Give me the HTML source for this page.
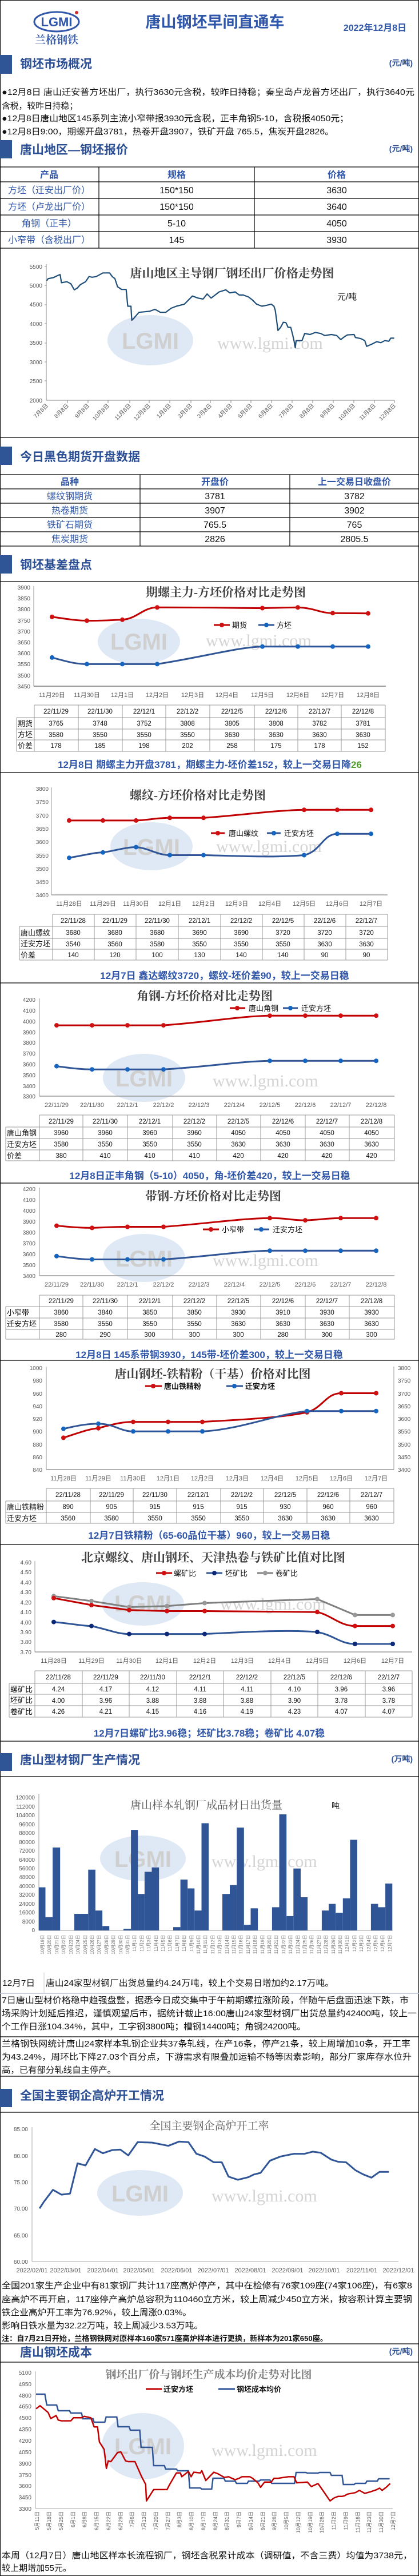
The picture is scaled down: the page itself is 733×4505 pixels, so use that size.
<!DOCTYPE html>
<html><head><meta charset="utf-8">
<style>
html,body{margin:0;padding:0;background:#fff;}
svg{display:block;font-family:"Liberation Sans","Noto Sans CJK SC",sans-serif;}
.hd{font-size:21px;font-weight:bold;fill:#2c4f96;}
.un{font-size:14px;font-weight:bold;fill:#2c4f96;text-anchor:end;}
.p{font-size:15px;fill:#111;}
.th{font-size:16px;font-weight:bold;fill:#2f56a8;text-anchor:middle;}
.tb{font-size:16px;fill:#2f56a8;text-anchor:middle;}
.tk{font-size:16px;fill:#111;text-anchor:middle;}
.ax{font-size:10px;fill:#595959;}
.axr{font-size:10px;fill:#595959;text-anchor:end;}
.axm{font-size:11px;fill:#595959;text-anchor:middle;}
.ct{font-family:"Liberation Serif","Noto Serif CJK SC",serif;font-size:21px;font-weight:bold;fill:#404040;text-anchor:middle;}
.lg{font-size:13px;fill:#111;}
.dt{font-size:11.5px;fill:#111;text-anchor:middle;}
.dl{font-size:13px;fill:#111;}
.cap{font-size:17px;font-weight:bold;fill:#2f56a8;text-anchor:middle;}
.wm{font-family:"Liberation Serif",serif;font-size:30px;fill:#d4d4d4;}
.wl{font-size:40px;font-weight:bold;fill:#cfcfcf;}
.g{stroke:#999;stroke-width:1;fill:none;}
.bl{stroke:#000;stroke-width:1.2;}
</style></head><body>
<svg width="733" height="4505" viewBox="0 0 733 4505" xmlns="http://www.w3.org/2000/svg">
<rect x="0.5" y="0.5" width="732" height="4504" fill="#fff" stroke="#000" stroke-width="1"/>

<!-- Header -->
<ellipse cx="99" cy="38" rx="39" ry="17" fill="none" stroke="#2f56a8" stroke-width="3"/>
<text x="99" y="46" font-size="22" font-weight="bold" fill="#2f56a8" text-anchor="middle">LGMI</text>
<circle cx="134" cy="22" r="3" fill="#d03030"/>
<text x="99" y="76" font-size="19" font-weight="bold" fill="#2f56a8" text-anchor="middle" font-family="'Noto Serif CJK SC',serif">兰格钢铁</text>
<text x="376" y="48" font-size="27" font-weight="bold" fill="#2f56a8" text-anchor="middle">唐山钢坯早间直通车</text>
<text x="656" y="54" font-size="16" font-weight="bold" fill="#2f56a8" text-anchor="middle">2022年12月8日</text>

<!-- Section 1 -->
<rect x="0" y="96" width="21" height="33" fill="#2f5597"/>
<text class="hd" x="35" y="119">钢坯市场概况</text>
<text class="un" x="722" y="115">(元/吨)</text>
<text class="p" x="3" y="166" textLength="722" lengthAdjust="spacingAndGlyphs">●12月8日 唐山迁安普方坯出厂，执行3630元含税，较昨日持稳；秦皇岛卢龙普方坯出厂，执行3640元</text>
<text class="p" x="3" y="190" textLength="133" lengthAdjust="spacingAndGlyphs">含税，较昨日持稳；</text>
<text class="p" x="3" y="212" textLength="607" lengthAdjust="spacingAndGlyphs">●12月8日唐山地区145系列主流小窄带报3930元含税，正丰角钢5-10，含税报4050元；</text>
<text class="p" x="3" y="235" textLength="581" lengthAdjust="spacingAndGlyphs">●12月8日9:00，期螺开盘3781，热卷开盘3907，铁矿开盘 765.5，焦炭开盘2826。</text>

<!-- Section 2 -->
<rect x="0" y="245" width="21" height="32" fill="#2f5597"/>
<text class="hd" x="35" y="269">唐山地区—钢坯报价</text>
<text class="un" x="722" y="265">(元/吨)</text>
<line class="bl" x1="0" y1="292" x2="733" y2="292"/>
<line class="bl" x1="0" y1="318" x2="733" y2="318"/>
<line class="bl" x1="0" y1="347" x2="733" y2="347"/>
<line class="bl" x1="0" y1="376" x2="733" y2="376"/>
<line class="bl" x1="0" y1="405" x2="733" y2="405"/>
<line class="bl" x1="0" y1="434" x2="733" y2="434"/>
<line class="bl" x1="173" y1="292" x2="173" y2="434"/>
<line class="bl" x1="445" y1="292" x2="445" y2="434"/>
<text class="th" x="86" y="311">产品</text><text class="th" x="309" y="311">规格</text><text class="th" x="589" y="311">价格</text>
<text class="tb" x="86" y="338">方坯（迁安出厂价）</text><text class="tk" x="309" y="338">150*150</text><text class="tk" x="589" y="338">3630</text>
<text class="tb" x="86" y="367">方坯（卢龙出厂价）</text><text class="tk" x="309" y="367">150*150</text><text class="tk" x="589" y="367">3640</text>
<text class="tb" x="86" y="396">角钢（正丰）</text><text class="tk" x="309" y="396">5-10</text><text class="tk" x="589" y="396">4050</text>
<text class="tb" x="86" y="425">小窄带（含税出厂）</text><text class="tk" x="309" y="425">145</text><text class="tk" x="589" y="425">3930</text>

<!-- Chart 1 -->
<ellipse cx="263" cy="595" rx="75" ry="44" fill="#dfe9f5"/>
<text class="wl" x="263" y="610" text-anchor="middle">LGMI</text>
<text class="wm" x="380" y="610">www.lgmi.com</text>
<text class="ct" x="406" y="485" font-weight="normal">唐山地区主导钢厂钢坯出厂价格走势图</text>
<text x="590" y="524" font-size="15" fill="#111">元/吨</text>
<line x1="81" y1="462" x2="81" y2="700" stroke="#888"/>
<line x1="81" y1="700" x2="690" y2="700" stroke="#888"/>
<g class="axr">
<text x="74" y="470">5500</text><text x="74" y="503">5000</text><text x="74" y="536">4500</text><text x="74" y="570">4000</text><text x="74" y="603">3500</text><text x="74" y="637">3000</text><text x="74" y="670">2500</text><text x="74" y="704">2000</text>
</g>
<g stroke="#888"><line x1="78" y1="466" x2="81" y2="466"/><line x1="78" y1="499" x2="81" y2="499"/><line x1="78" y1="533" x2="81" y2="533"/><line x1="78" y1="566" x2="81" y2="566"/><line x1="78" y1="600" x2="81" y2="600"/><line x1="78" y1="633" x2="81" y2="633"/><line x1="78" y1="666" x2="81" y2="666"/>
<line x1="118" y1="700" x2="118" y2="705"/><line x1="154" y1="700" x2="154" y2="705"/><line x1="189" y1="700" x2="189" y2="705"/><line x1="227" y1="700" x2="227" y2="705"/><line x1="261" y1="700" x2="261" y2="705"/><line x1="297" y1="700" x2="297" y2="705"/><line x1="334" y1="700" x2="334" y2="705"/><line x1="368" y1="700" x2="368" y2="705"/><line x1="404" y1="700" x2="404" y2="705"/><line x1="439" y1="700" x2="439" y2="705"/><line x1="475" y1="700" x2="475" y2="705"/><line x1="511" y1="700" x2="511" y2="705"/><line x1="547" y1="700" x2="547" y2="705"/><line x1="583" y1="700" x2="583" y2="705"/><line x1="619" y1="700" x2="619" y2="705"/><line x1="655" y1="700" x2="655" y2="705"/><line x1="690" y1="700" x2="690" y2="705"/></g>
<g class="axr">
<text transform="translate(85,710) rotate(-45)">7月8日</text>
<text transform="translate(121,710) rotate(-45)">8月8日</text>
<text transform="translate(157,710) rotate(-45)">9月8日</text>
<text transform="translate(192,710) rotate(-45)">10月8日</text>
<text transform="translate(230,710) rotate(-45)">11月8日</text>
<text transform="translate(264,710) rotate(-45)">12月8日</text>
<text transform="translate(300,710) rotate(-45)">1月8日</text>
<text transform="translate(337,710) rotate(-45)">2月8日</text>
<text transform="translate(371,710) rotate(-45)">3月8日</text>
<text transform="translate(407,710) rotate(-45)">4月8日</text>
<text transform="translate(442,710) rotate(-45)">5月8日</text>
<text transform="translate(478,710) rotate(-45)">6月8日</text>
<text transform="translate(514,710) rotate(-45)">7月8日</text>
<text transform="translate(550,710) rotate(-45)">8月8日</text>
<text transform="translate(586,710) rotate(-45)">9月8日</text>
<text transform="translate(622,710) rotate(-45)">10月8日</text>
<text transform="translate(658,710) rotate(-45)">11月8日</text>
<text transform="translate(693,710) rotate(-45)">12月8日</text>
</g>
<polyline fill="none" stroke="#1f4e79" stroke-width="2.2" stroke-linejoin="round" points="81.8,490.9 84.2,487.3 93.5,485.5 100.5,482 105.2,480.2 107.5,494.4 116.9,492.7 123.9,496.2 130,506.9 135.6,503.4 140.3,498 149.6,492.7 155.7,483.7 161.3,484.8 168.3,483.7 180,477.3 191.7,477.3 196.4,483.7 201,487.3 205.7,501.6 212.7,506.2 220.7,506.2 223.5,535.5 229.1,535.5 230.5,560 233.8,557 243.1,546.2 261.8,544.4 271.2,540.9 280.5,546.2 289.9,546.2 299.2,539.1 308.6,535.5 322.6,531.9 336.6,517.7 346,521.2 355.3,523 362.3,514.1 369.3,521.2 374,517.7 383.4,510.5 395,506.9 402,512.3 411.4,510.5 418.4,515.9 425.4,515.9 434.8,519.4 441.8,524.8 448.8,531.9 458.2,535.5 467.5,533.7 474.5,531.9 479.2,535.5 481.5,542.6 483.9,560 486.2,577.9 490.9,572.5 495.6,563.6 500.2,564.3 504,572.5 508.6,572.5 511.9,585 514.3,595.7 516.6,608.2 518,595.7 528.3,595.7 533,583.2 542.3,585 551.7,581.4 561,583.2 568,586.8 579.7,585 589,586.8 596,593.9 603,588.6 607.8,585.7 619.4,585 621.8,590.3 631.1,592.1 638.1,595.7 641.4,605.7 649.8,602.1 659.2,597.5 666.2,599.3 673.2,595.7 680.2,596.8 683.5,591.4 689.6,591.4"/>
<line class="bl" x1="0" y1="765" x2="733" y2="765"/>

<!-- Section 3 -->
<rect x="0" y="781" width="21" height="32" fill="#2f5597"/>
<text class="hd" x="35" y="806">今日黑色期货开盘数据</text>
<line class="bl" x1="0" y1="830" x2="733" y2="830"/>
<line class="bl" x1="0" y1="855" x2="733" y2="855"/>
<line class="bl" x1="0" y1="880" x2="733" y2="880"/>
<line class="bl" x1="0" y1="905" x2="733" y2="905"/>
<line class="bl" x1="0" y1="930" x2="733" y2="930"/>
<line class="bl" x1="0" y1="955" x2="733" y2="955"/>
<line class="bl" x1="245" y1="830" x2="245" y2="955"/>
<line class="bl" x1="507" y1="830" x2="507" y2="955"/>
<text class="th" x="122" y="848">品种</text><text class="th" x="376" y="848">开盘价</text><text class="th" x="620" y="848">上一交易日收盘价</text>
<text class="tb" x="122" y="873">螺纹钢期货</text><text class="tk" x="376" y="873">3781</text><text class="tk" x="620" y="873">3782</text>
<text class="tb" x="122" y="898">热卷期货</text><text class="tk" x="376" y="898">3907</text><text class="tk" x="620" y="898">3902</text>
<text class="tb" x="122" y="923">铁矿石期货</text><text class="tk" x="376" y="923">765.5</text><text class="tk" x="620" y="923">765</text>
<text class="tb" x="122" y="948">焦炭期货</text><text class="tk" x="376" y="948">2826</text><text class="tk" x="620" y="948">2805.5</text>

<!-- Section 4 -->
<rect x="0" y="971" width="21" height="32" fill="#2f5597"/>
<text class="hd" x="35" y="995">钢坯基差盘点</text>
<line class="bl" x1="0" y1="1017" x2="733" y2="1017"/>

<!-- Chart 期螺 -->
<ellipse cx="243" cy="1122" rx="72" ry="40" fill="#dfe9f5"/>
<text class="wl" x="243" y="1136" text-anchor="middle">LGMI</text>
<text class="wm" x="360" y="1130">www.lgmi.com</text>
<text class="ct" x="395" y="1043">期螺主力-方坯价格对比走势图</text>
<line x1="59" y1="1025" x2="59" y2="1200" stroke="#999"/>
<line x1="59" y1="1200" x2="675" y2="1200" stroke="#999" stroke-width="2"/>
<g class="axr"><text x="53" y="1031">3900</text><text x="53" y="1050">3850</text><text x="53" y="1069">3800</text><text x="53" y="1089">3750</text><text x="53" y="1108">3700</text><text x="53" y="1127">3650</text><text x="53" y="1146">3600</text><text x="53" y="1165">3550</text><text x="53" y="1185">3500</text><text x="53" y="1204">3450</text></g>
<g class="axm"><text x="91" y="1219">11月29日</text><text x="152" y="1219">11月30日</text><text x="214" y="1219">12月1日</text><text x="275" y="1219">12月2日</text><text x="337" y="1219">12月3日</text><text x="397" y="1219">12月4日</text><text x="459" y="1219">12月5日</text><text x="521" y="1219">12月6日</text><text x="582" y="1219">12月7日</text><text x="644" y="1219">12月8日</text></g>
<path d="M91,1078.8 C120,1083 135,1085.4 152,1085.4 C180,1086 200,1084 214,1083.8 C240,1082 250,1062.3 275,1062.3 C350,1062 420,1063.5 459,1063.5 C490,1063 505,1062.3 521,1062.3 C550,1063 560,1072.3 582,1072.3 L644,1072.7" fill="none" stroke="#c00000" stroke-width="3"/>
<path d="M91,1149.9 C115,1156 130,1161.4 152,1161.4 L275,1161.4 C350,1150 420,1131 459,1130.7 L644,1130.7" fill="none" stroke="#2f5597" stroke-width="3"/>
<g fill="#d01010"><circle cx="91" cy="1078.8" r="4"/><circle cx="152" cy="1085.4" r="4"/><circle cx="214" cy="1083.8" r="4"/><circle cx="275" cy="1062.3" r="4"/><circle cx="459" cy="1063.5" r="4"/><circle cx="521" cy="1062.3" r="4"/><circle cx="582" cy="1072.3" r="4"/><circle cx="644" cy="1072.7" r="4"/></g>
<g fill="#1565c0"><circle cx="91" cy="1149.9" r="4"/><circle cx="152" cy="1161.4" r="4"/><circle cx="214" cy="1161.4" r="4"/><circle cx="275" cy="1161.4" r="4"/><circle cx="459" cy="1130.7" r="4"/><circle cx="521" cy="1130.7" r="4"/><circle cx="582" cy="1130.7" r="4"/><circle cx="644" cy="1130.7" r="4"/></g>
<line x1="374" y1="1093" x2="402" y2="1093" stroke="#c00000" stroke-width="3"/><circle cx="388" cy="1093" r="4" fill="#d01010"/><text class="lg" x="406" y="1098">期货</text>
<line x1="452" y1="1093" x2="480" y2="1093" stroke="#2f5597" stroke-width="3"/><circle cx="466" cy="1093" r="4" fill="#1565c0"/><text class="lg" x="484" y="1098">方坯</text>
<g class="g"><line x1="60" y1="1233" x2="674" y2="1233"/><line x1="29" y1="1255" x2="674" y2="1255"/><line x1="29" y1="1275" x2="674" y2="1275"/><line x1="29" y1="1294" x2="674" y2="1294"/><line x1="29" y1="1314" x2="674" y2="1314"/>
<line x1="29" y1="1255" x2="29" y2="1314"/><line x1="60" y1="1233" x2="60" y2="1314"/><line x1="137" y1="1233" x2="137" y2="1314"/><line x1="214" y1="1233" x2="214" y2="1314"/><line x1="290" y1="1233" x2="290" y2="1314"/><line x1="367" y1="1233" x2="367" y2="1314"/><line x1="445" y1="1233" x2="445" y2="1314"/><line x1="521" y1="1233" x2="521" y2="1314"/><line x1="597" y1="1233" x2="597" y2="1314"/><line x1="674" y1="1233" x2="674" y2="1314"/></g>
<g class="dt"><text x="98" y="1248">22/11/29</text><text x="175" y="1248">22/11/30</text><text x="252" y="1248">22/12/1</text><text x="328" y="1248">22/12/2</text><text x="406" y="1248">22/12/5</text><text x="483" y="1248">22/12/6</text><text x="559" y="1248">22/12/7</text><text x="635" y="1248">22/12/8</text>
<text x="98" y="1269">3765</text><text x="175" y="1269">3748</text><text x="252" y="1269">3752</text><text x="328" y="1269">3808</text><text x="406" y="1269">3805</text><text x="483" y="1269">3808</text><text x="559" y="1269">3782</text><text x="635" y="1269">3781</text>
<text x="98" y="1289">3580</text><text x="175" y="1289">3550</text><text x="252" y="1289">3550</text><text x="328" y="1289">3550</text><text x="406" y="1289">3630</text><text x="483" y="1289">3630</text><text x="559" y="1289">3630</text><text x="635" y="1289">3630</text>
<text x="98" y="1308">178</text><text x="175" y="1308">185</text><text x="252" y="1308">198</text><text x="328" y="1308">202</text><text x="406" y="1308">258</text><text x="483" y="1308">175</text><text x="559" y="1308">178</text><text x="635" y="1308">152</text></g>
<g class="dl"><text x="31" y="1270">期货</text><text x="31" y="1289">方坯</text><text x="31" y="1309">价差</text></g>
<text class="cap" x="367" y="1343">12月8日 期螺主力开盘3781，期螺主力-坯价差152，较上一交易日降<tspan fill="#4e9a2a">26</tspan></text>
<line class="bl" x1="0" y1="1351" x2="733" y2="1351"/>

<!-- Chart 螺纹 -->
<ellipse cx="265" cy="1480" rx="72" ry="42" fill="#dfe9f5"/>
<text class="wl" x="265" y="1495" text-anchor="middle">LGMI</text>
<text class="wm" x="378" y="1490">www.lgmi.com</text>
<text class="ct" x="346" y="1398">螺纹-方坯价格对比走势图</text>
<line x1="90" y1="1377" x2="90" y2="1565" stroke="#999"/>
<line x1="90" y1="1565" x2="678" y2="1565" stroke="#999" stroke-width="1.5"/>
<g class="axr"><text x="85" y="1383">3800</text><text x="85" y="1406">3750</text><text x="85" y="1430">3700</text><text x="85" y="1453">3650</text><text x="85" y="1476">3600</text><text x="85" y="1500">3550</text><text x="85" y="1523">3500</text><text x="85" y="1546">3450</text><text x="85" y="1569">3400</text></g>
<g class="axm"><text x="121" y="1584">11月28日</text><text x="180" y="1584">11月29日</text><text x="238" y="1584">11月30日</text><text x="297" y="1584">12月1日</text><text x="356" y="1584">12月2日</text><text x="414" y="1584">12月3日</text><text x="472" y="1584">12月4日</text><text x="532" y="1584">12月5日</text><text x="590" y="1584">12月6日</text><text x="649" y="1584">12月7日</text></g>
<path d="M121,1434.9 L238,1434.9 C260,1434 275,1430.3 297,1430.3 L356,1430.3 C420,1426 480,1417 532,1416.3 L649,1416.3" fill="none" stroke="#c00000" stroke-width="3"/>
<path d="M121,1500.2 C150,1495 165,1491 180,1490.8 C200,1488 220,1481.5 238,1481.5 C260,1483 275,1495.5 297,1495.5 L356,1495.5 C420,1497 480,1500 532,1495.5 C560,1490 565,1458.2 590,1458.2 L649,1458.2" fill="none" stroke="#2f5597" stroke-width="3"/>
<g fill="#d01010"><circle cx="121" cy="1434.9" r="4"/><circle cx="180" cy="1434.9" r="4"/><circle cx="238" cy="1434.9" r="4"/><circle cx="297" cy="1430.3" r="4"/><circle cx="356" cy="1430.3" r="4"/><circle cx="532" cy="1416.3" r="4"/><circle cx="590" cy="1416.3" r="4"/><circle cx="649" cy="1416.3" r="4"/></g>
<g fill="#1565c0"><circle cx="121" cy="1500.2" r="4"/><circle cx="180" cy="1490.8" r="4"/><circle cx="238" cy="1481.5" r="4"/><circle cx="297" cy="1495.5" r="4"/><circle cx="356" cy="1495.5" r="4"/><circle cx="532" cy="1495.5" r="4"/><circle cx="590" cy="1458.2" r="4"/><circle cx="649" cy="1458.2" r="4"/></g>
<line x1="369" y1="1457" x2="393" y2="1457" stroke="#c00000" stroke-width="3"/><circle cx="381" cy="1457" r="4" fill="#d01010"/><text class="lg" x="400" y="1462">唐山螺纹</text>
<line x1="467" y1="1457" x2="491" y2="1457" stroke="#2f5597" stroke-width="3"/><circle cx="479" cy="1457" r="4" fill="#1565c0"/><text class="lg" x="497" y="1462">迁安方坯</text>
<g class="g"><line x1="92" y1="1599" x2="678" y2="1599"/><line x1="34" y1="1620" x2="678" y2="1620"/><line x1="34" y1="1641" x2="678" y2="1641"/><line x1="34" y1="1660" x2="678" y2="1660"/><line x1="34" y1="1679" x2="678" y2="1679"/>
<line x1="34" y1="1620" x2="34" y2="1679"/><line x1="92" y1="1599" x2="92" y2="1679"/><line x1="165" y1="1599" x2="165" y2="1679"/><line x1="238" y1="1599" x2="238" y2="1679"/><line x1="312" y1="1599" x2="312" y2="1679"/><line x1="386" y1="1599" x2="386" y2="1679"/><line x1="459" y1="1599" x2="459" y2="1679"/><line x1="532" y1="1599" x2="532" y2="1679"/><line x1="605" y1="1599" x2="605" y2="1679"/><line x1="678" y1="1599" x2="678" y2="1679"/></g>
<g class="dt"><text x="128" y="1614">22/11/28</text><text x="201" y="1614">22/11/29</text><text x="275" y="1614">22/11/30</text><text x="349" y="1614">22/12/1</text><text x="422" y="1614">22/12/2</text><text x="495" y="1614">22/12/5</text><text x="568" y="1614">22/12/6</text><text x="641" y="1614">22/12/7</text>
<text x="128" y="1635">3680</text><text x="201" y="1635">3680</text><text x="275" y="1635">3680</text><text x="349" y="1635">3690</text><text x="422" y="1635">3690</text><text x="495" y="1635">3720</text><text x="568" y="1635">3720</text><text x="641" y="1635">3720</text>
<text x="128" y="1655">3540</text><text x="201" y="1655">3560</text><text x="275" y="1655">3580</text><text x="349" y="1655">3550</text><text x="422" y="1655">3550</text><text x="495" y="1655">3550</text><text x="568" y="1655">3630</text><text x="641" y="1655">3630</text>
<text x="128" y="1674">140</text><text x="201" y="1674">120</text><text x="275" y="1674">100</text><text x="349" y="1674">130</text><text x="422" y="1674">140</text><text x="495" y="1674">140</text><text x="568" y="1674">90</text><text x="641" y="1674">90</text></g>
<g class="dl"><text x="36" y="1636">唐山螺纹</text><text x="36" y="1655">迁安方坯</text><text x="36" y="1675">价差</text></g>
<text class="cap" x="393" y="1712">12月7日 鑫达螺纹3720，螺纹-坯价差90，较上一交易日稳</text>
<line class="bl" x1="0" y1="1719" x2="733" y2="1719"/>

<!-- Chart 角钢 -->
<ellipse cx="252" cy="1885" rx="72" ry="42" fill="#dfe9f5"/>
<text class="wl" x="252" y="1900" text-anchor="middle">LGMI</text>
<text class="wm" x="372" y="1900">www.lgmi.com</text>
<text class="ct" x="358" y="1749">角钢-方坯价格对比走势图</text>
<line x1="69" y1="1746" x2="69" y2="1917" stroke="#999"/>
<line x1="69" y1="1917" x2="690" y2="1917" stroke="#999" stroke-width="1.5"/>
<g class="axr"><text x="62" y="1752">4200</text><text x="62" y="1771">4100</text><text x="62" y="1790">4000</text><text x="62" y="1809">3900</text><text x="62" y="1827">3800</text><text x="62" y="1846">3700</text><text x="62" y="1865">3600</text><text x="62" y="1884">3500</text><text x="62" y="1903">3400</text><text x="62" y="1921">3300</text></g>
<g class="axm"><text x="99" y="1936">22/11/29</text><text x="161" y="1936">22/11/30</text><text x="223" y="1936">22/12/1</text><text x="286" y="1936">22/12/2</text><text x="348" y="1936">22/12/3</text><text x="410" y="1936">22/12/4</text><text x="472" y="1936">22/12/5</text><text x="534" y="1936">22/12/6</text><text x="596" y="1936">22/12/7</text><text x="658" y="1936">22/12/8</text></g>
<path d="M99,1793.1 L286,1793.1 C360,1788 420,1777 472,1776.2 L658,1776.2" fill="none" stroke="#c00000" stroke-width="3"/>
<path d="M99,1864.6 C125,1868 140,1870.2 161,1870.2 L286,1870.2 C360,1866 420,1856 472,1855.2 L658,1855.2" fill="none" stroke="#2f5597" stroke-width="3"/>
<g fill="#d01010"><circle cx="99" cy="1793.1" r="4"/><circle cx="161" cy="1793.1" r="4"/><circle cx="223" cy="1793.1" r="4"/><circle cx="286" cy="1793.1" r="4"/><circle cx="472" cy="1776.2" r="4"/><circle cx="534" cy="1776.2" r="4"/><circle cx="596" cy="1776.2" r="4"/><circle cx="658" cy="1776.2" r="4"/></g>
<g fill="#1565c0"><circle cx="99" cy="1864.6" r="4"/><circle cx="161" cy="1870.2" r="4"/><circle cx="223" cy="1870.2" r="4"/><circle cx="286" cy="1870.2" r="4"/><circle cx="472" cy="1855.2" r="4"/><circle cx="534" cy="1855.2" r="4"/><circle cx="596" cy="1855.2" r="4"/><circle cx="658" cy="1855.2" r="4"/></g>
<line x1="402" y1="1763" x2="429" y2="1763" stroke="#c00000" stroke-width="3"/><circle cx="415" cy="1763" r="4" fill="#d01010"/><text class="lg" x="435" y="1768">唐山角钢</text>
<line x1="495" y1="1763" x2="521" y2="1763" stroke="#2f5597" stroke-width="3"/><circle cx="508" cy="1763" r="4" fill="#1565c0"/><text class="lg" x="527" y="1768">迁安方坯</text>
<g class="g"><line x1="69" y1="1950" x2="690" y2="1950"/><line x1="10" y1="1971" x2="690" y2="1971"/><line x1="10" y1="1991" x2="690" y2="1991"/><line x1="10" y1="2011" x2="690" y2="2011"/><line x1="10" y1="2030" x2="690" y2="2030"/>
<line x1="10" y1="1971" x2="10" y2="2030"/><line x1="69" y1="1950" x2="69" y2="2030"/><line x1="145" y1="1950" x2="145" y2="2030"/><line x1="223" y1="1950" x2="223" y2="2030"/><line x1="302" y1="1950" x2="302" y2="2030"/><line x1="379" y1="1950" x2="379" y2="2030"/><line x1="456" y1="1950" x2="456" y2="2030"/><line x1="534" y1="1950" x2="534" y2="2030"/><line x1="611" y1="1950" x2="611" y2="2030"/><line x1="690" y1="1950" x2="690" y2="2030"/></g>
<g class="dt"><text x="107" y="1965">22/11/29</text><text x="184" y="1965">22/11/30</text><text x="262" y="1965">22/12/1</text><text x="340" y="1965">22/12/2</text><text x="417" y="1965">22/12/5</text><text x="495" y="1965">22/12/6</text><text x="572" y="1965">22/12/7</text><text x="650" y="1965">22/12/8</text>
<text x="107" y="1985">3960</text><text x="184" y="1985">3960</text><text x="262" y="1985">3960</text><text x="340" y="1985">3960</text><text x="417" y="1985">4050</text><text x="495" y="1985">4050</text><text x="572" y="1985">4050</text><text x="650" y="1985">4050</text>
<text x="107" y="2005">3580</text><text x="184" y="2005">3550</text><text x="262" y="2005">3550</text><text x="340" y="2005">3550</text><text x="417" y="2005">3630</text><text x="495" y="2005">3630</text><text x="572" y="2005">3630</text><text x="650" y="2005">3630</text>
<text x="107" y="2025">380</text><text x="184" y="2025">410</text><text x="262" y="2025">410</text><text x="340" y="2025">410</text><text x="417" y="2025">420</text><text x="495" y="2025">420</text><text x="572" y="2025">420</text><text x="650" y="2025">420</text></g>
<g class="dl"><text x="12" y="1986">唐山角钢</text><text x="12" y="2006">迁安方坯</text><text x="12" y="2026">价差</text></g>
<text class="cap" x="367" y="2062">12月8日正丰角钢（5-10）4050，角-坯价差420，较上一交易日稳</text>
<line class="bl" x1="0" y1="2069" x2="733" y2="2069"/>

<!-- Chart 带钢 -->
<ellipse cx="252" cy="2200" rx="72" ry="42" fill="#dfe9f5"/>
<text class="wl" x="252" y="2215" text-anchor="middle">LGMI</text>
<text class="wm" x="372" y="2214">www.lgmi.com</text>
<text class="ct" x="373" y="2099">带钢-方坯价格对比走势图</text>
<line x1="69" y1="2077" x2="69" y2="2231" stroke="#999"/>
<line x1="69" y1="2231" x2="690" y2="2231" stroke="#999" stroke-width="1.5"/>
<g class="axr"><text x="62" y="2083">4200</text><text x="62" y="2102">4100</text><text x="62" y="2121">4000</text><text x="62" y="2140">3900</text><text x="62" y="2159">3800</text><text x="62" y="2178">3700</text><text x="62" y="2197">3600</text><text x="62" y="2216">3500</text><text x="62" y="2235">3400</text></g>
<g class="axm"><text x="99" y="2250">22/11/29</text><text x="161" y="2250">22/11/30</text><text x="223" y="2250">22/12/1</text><text x="286" y="2250">22/12/2</text><text x="348" y="2250">22/12/3</text><text x="410" y="2250">22/12/4</text><text x="472" y="2250">22/12/5</text><text x="534" y="2250">22/12/6</text><text x="596" y="2250">22/12/7</text><text x="658" y="2250">22/12/8</text></g>
<path d="M99,2143.6 C125,2146 140,2147.4 161,2147.4 C190,2146 205,2145.5 223,2145.5 L286,2145.5 C360,2140 420,2131 472,2130.3 C500,2130 510,2134.1 534,2134.1 C560,2133 575,2130.3 596,2130.3 L658,2130.3" fill="none" stroke="#c00000" stroke-width="3"/>
<path d="M99,2196.8 C125,2200 140,2202.5 161,2202.5 L286,2202.5 C360,2198 420,2188 472,2187.3 L658,2187.3" fill="none" stroke="#2f5597" stroke-width="3"/>
<g fill="#d01010"><circle cx="99" cy="2143.6" r="4"/><circle cx="161" cy="2147.4" r="4"/><circle cx="223" cy="2145.5" r="4"/><circle cx="286" cy="2145.5" r="4"/><circle cx="472" cy="2130.3" r="4"/><circle cx="534" cy="2134.1" r="4"/><circle cx="596" cy="2130.3" r="4"/><circle cx="658" cy="2130.3" r="4"/></g>
<g fill="#1565c0"><circle cx="99" cy="2196.8" r="4"/><circle cx="161" cy="2202.5" r="4"/><circle cx="223" cy="2202.5" r="4"/><circle cx="286" cy="2202.5" r="4"/><circle cx="472" cy="2187.3" r="4"/><circle cx="534" cy="2187.3" r="4"/><circle cx="596" cy="2187.3" r="4"/><circle cx="658" cy="2187.3" r="4"/></g>
<line x1="355" y1="2150" x2="383" y2="2150" stroke="#c00000" stroke-width="3"/><circle cx="369" cy="2150" r="4" fill="#d01010"/><text class="lg" x="388" y="2155">小窄带</text>
<line x1="444" y1="2150" x2="471" y2="2150" stroke="#2f5597" stroke-width="3"/><circle cx="457" cy="2150" r="4" fill="#1565c0"/><text class="lg" x="477" y="2155">迁安方坯</text>
<g class="g"><line x1="69" y1="2265" x2="690" y2="2265"/><line x1="10" y1="2285" x2="690" y2="2285"/><line x1="10" y1="2305" x2="690" y2="2305"/><line x1="10" y1="2325" x2="690" y2="2325"/><line x1="10" y1="2342" x2="690" y2="2342"/>
<line x1="10" y1="2285" x2="10" y2="2342"/><line x1="69" y1="2265" x2="69" y2="2342"/><line x1="145" y1="2265" x2="145" y2="2342"/><line x1="223" y1="2265" x2="223" y2="2342"/><line x1="302" y1="2265" x2="302" y2="2342"/><line x1="379" y1="2265" x2="379" y2="2342"/><line x1="456" y1="2265" x2="456" y2="2342"/><line x1="534" y1="2265" x2="534" y2="2342"/><line x1="611" y1="2265" x2="611" y2="2342"/><line x1="690" y1="2265" x2="690" y2="2342"/></g>
<g class="dt"><text x="107" y="2279">22/11/29</text><text x="184" y="2279">22/11/30</text><text x="262" y="2279">22/12/1</text><text x="340" y="2279">22/12/2</text><text x="417" y="2279">22/12/5</text><text x="495" y="2279">22/12/6</text><text x="572" y="2279">22/12/7</text><text x="650" y="2279">22/12/8</text>
<text x="107" y="2299">3860</text><text x="184" y="2299">3840</text><text x="262" y="2299">3850</text><text x="340" y="2299">3850</text><text x="417" y="2299">3930</text><text x="495" y="2299">3910</text><text x="572" y="2299">3930</text><text x="650" y="2299">3930</text>
<text x="107" y="2319">3580</text><text x="184" y="2319">3550</text><text x="262" y="2319">3550</text><text x="340" y="2319">3550</text><text x="417" y="2319">3630</text><text x="495" y="2319">3630</text><text x="572" y="2319">3630</text><text x="650" y="2319">3630</text>
<text x="107" y="2338">280</text><text x="184" y="2338">290</text><text x="262" y="2338">300</text><text x="340" y="2338">300</text><text x="417" y="2338">300</text><text x="495" y="2338">280</text><text x="572" y="2338">300</text><text x="650" y="2338">300</text></g>
<g class="dl"><text x="12" y="2300">小窄带</text><text x="12" y="2320">迁安方坯</text></g>
<text class="cap" x="366" y="2375">12月8日 145系带钢3930，145带-坯价差300，较上一交易日稳</text>
<line class="bl" x1="0" y1="2379" x2="733" y2="2379"/>

<!-- Chart 铁精粉 -->
<text class="ct" x="372" y="2410">唐山钢坯-铁精粉（干基）价格对比图</text>
<line x1="81" y1="2390" x2="81" y2="2570" stroke="#999"/>
<line x1="689" y1="2390" x2="689" y2="2570" stroke="#999"/>
<line x1="81" y1="2570" x2="689" y2="2570" stroke="#999" stroke-width="1.5"/>
<g class="axr"><text x="74" y="2396">1000</text><text x="74" y="2418">980</text><text x="74" y="2441">960</text><text x="74" y="2463">940</text><text x="74" y="2485">920</text><text x="74" y="2507">900</text><text x="74" y="2530">880</text><text x="74" y="2552">860</text><text x="74" y="2574">840</text></g>
<g class="ax"><text x="696" y="2396">3800</text><text x="696" y="2418">3750</text><text x="696" y="2441">3700</text><text x="696" y="2463">3650</text><text x="696" y="2485">3600</text><text x="696" y="2507">3550</text><text x="696" y="2530">3500</text><text x="696" y="2552">3450</text><text x="696" y="2574">3400</text></g>
<g class="axm"><text x="111" y="2589">11月28日</text><text x="172" y="2589">11月29日</text><text x="233" y="2589">11月30日</text><text x="294" y="2589">12月1日</text><text x="354" y="2589">12月2日</text><text x="415" y="2589">12月3日</text><text x="476" y="2589">12月4日</text><text x="537" y="2589">12月5日</text><text x="597" y="2589">12月6日</text><text x="658" y="2589">12月7日</text></g>
<path d="M111,2514.4 C140,2505 155,2499 172,2497.7 C200,2490 215,2486.6 233,2486.6 L354,2486.6 C440,2482 500,2478 537,2469.9 C565,2462 570,2436.5 597,2436.5 L658,2436.5" fill="none" stroke="#c00000" stroke-width="3"/>
<path d="M111,2498.8 C140,2492 155,2489.9 172,2489.9 C200,2490 210,2503.3 233,2503.3 L354,2503.3 C420,2500 480,2474 537,2467.7 L658,2467.7" fill="none" stroke="#2f5597" stroke-width="3"/>
<g fill="#d01010"><circle cx="111" cy="2514.4" r="4"/><circle cx="172" cy="2497.7" r="4"/><circle cx="233" cy="2486.6" r="4"/><circle cx="294" cy="2486.6" r="4"/><circle cx="354" cy="2486.6" r="4"/><circle cx="537" cy="2469.9" r="4"/><circle cx="597" cy="2436.5" r="4"/><circle cx="658" cy="2436.5" r="4"/></g>
<g fill="#1565c0"><circle cx="111" cy="2498.8" r="4"/><circle cx="172" cy="2489.9" r="4"/><circle cx="233" cy="2503.3" r="4"/><circle cx="294" cy="2503.3" r="4"/><circle cx="354" cy="2503.3" r="4"/><circle cx="537" cy="2467.7" r="4"/><circle cx="597" cy="2467.7" r="4"/><circle cx="658" cy="2467.7" r="4"/></g>
<line x1="254" y1="2424" x2="283" y2="2424" stroke="#c00000" stroke-width="3"/><circle cx="268" cy="2424" r="4" fill="#d01010"/><text class="lg" x="287" y="2429" font-weight="bold">唐山铁精粉</text>
<line x1="396" y1="2424" x2="425" y2="2424" stroke="#2f5597" stroke-width="3"/><circle cx="410" cy="2424" r="4" fill="#1565c0"/><text class="lg" x="429" y="2429" font-weight="bold">迁安方坯</text>
<g class="g"><line x1="81" y1="2603" x2="689" y2="2603"/><line x1="10" y1="2625" x2="689" y2="2625"/><line x1="10" y1="2645" x2="689" y2="2645"/><line x1="10" y1="2664" x2="689" y2="2664"/>
<line x1="10" y1="2625" x2="10" y2="2664"/><line x1="81" y1="2603" x2="81" y2="2664"/><line x1="158" y1="2603" x2="158" y2="2664"/><line x1="233" y1="2603" x2="233" y2="2664"/><line x1="309" y1="2603" x2="309" y2="2664"/><line x1="386" y1="2603" x2="386" y2="2664"/><line x1="461" y1="2603" x2="461" y2="2664"/><line x1="537" y1="2603" x2="537" y2="2664"/><line x1="612" y1="2603" x2="612" y2="2664"/><line x1="689" y1="2603" x2="689" y2="2664"/></g>
<g class="dt"><text x="119" y="2618">22/11/28</text><text x="195" y="2618">22/11/29</text><text x="271" y="2618">22/11/30</text><text x="347" y="2618">22/12/1</text><text x="423" y="2618">22/12/2</text><text x="499" y="2618">22/12/5</text><text x="574" y="2618">22/12/6</text><text x="650" y="2618">22/12/7</text>
<text x="119" y="2639">890</text><text x="195" y="2639">905</text><text x="271" y="2639">915</text><text x="347" y="2639">915</text><text x="423" y="2639">915</text><text x="499" y="2639">930</text><text x="574" y="2639">960</text><text x="650" y="2639">960</text>
<text x="119" y="2659">3560</text><text x="195" y="2659">3580</text><text x="271" y="2659">3550</text><text x="347" y="2659">3550</text><text x="423" y="2659">3550</text><text x="499" y="2659">3630</text><text x="574" y="2659">3630</text><text x="650" y="2659">3630</text></g>
<g class="dl"><text x="12" y="2640">唐山铁精粉</text><text x="12" y="2660">迁安方坯</text></g>
<text class="cap" x="366" y="2691">12月7日铁精粉（65-60品位干基）960，较上一交易日稳</text>
<line class="bl" x1="0" y1="2701" x2="733" y2="2701"/>

<!-- Chart 比值 -->
<ellipse cx="250" cy="2805" rx="72" ry="38" fill="#dfe9f5"/>
<text class="wl" x="250" y="2818" text-anchor="middle">LGMI</text>
<text class="wm" x="385" y="2815">www.lgmi.com</text>
<text class="ct" x="373" y="2731">北京螺纹、唐山钢坯、天津热卷与铁矿比值对比图</text>
<line x1="61" y1="2730" x2="61" y2="2889" stroke="#999"/>
<line x1="61" y1="2889" x2="721" y2="2889" stroke="#999" stroke-width="1.5"/>
<g class="axr"><text x="55" y="2736">4.60</text><text x="55" y="2753">4.50</text><text x="55" y="2771">4.40</text><text x="55" y="2788">4.30</text><text x="55" y="2806">4.20</text><text x="55" y="2823">4.10</text><text x="55" y="2841">4.00</text><text x="55" y="2858">3.90</text><text x="55" y="2875">3.80</text><text x="55" y="2893">3.70</text></g>
<g class="axm"><text x="94" y="2908">11月28日</text><text x="160" y="2908">11月29日</text><text x="226" y="2908">11月30日</text><text x="292" y="2908">12月1日</text><text x="358" y="2908">12月2日</text><text x="424" y="2908">12月3日</text><text x="489" y="2908">12月4日</text><text x="555" y="2908">12月5日</text><text x="621" y="2908">12月6日</text><text x="687" y="2908">12月7日</text></g>
<polyline points="94,2791.3 160,2800 226,2810.5 292,2808.7 358,2803.5 555,2796.5 621,2824.4 687,2824.4" fill="none" stroke="#808080" stroke-width="3"/>
<path d="M94,2794.8 L160,2807 L226,2815.7 L292,2817.5 L358,2817.5 L555,2819.2 C580,2825 595,2843.6 621,2843.6 L687,2843.6" fill="none" stroke="#c00000" stroke-width="3"/>
<path d="M94,2836.6 C130,2840 145,2843.6 160,2843.6 C190,2850 205,2857.6 226,2857.6 L358,2857.6 C430,2854 500,2850 555,2854.1 C585,2860 595,2875 621,2875 L687,2875" fill="none" stroke="#2f5597" stroke-width="3"/>
<g fill="#999"><circle cx="94" cy="2791.3" r="4"/><circle cx="160" cy="2800" r="4"/><circle cx="226" cy="2810.5" r="4"/><circle cx="292" cy="2808.7" r="4"/><circle cx="358" cy="2803.5" r="4"/><circle cx="555" cy="2796.5" r="4"/><circle cx="621" cy="2824.4" r="4"/><circle cx="687" cy="2824.4" r="4"/></g>
<g fill="#d01010"><circle cx="94" cy="2794.8" r="4"/><circle cx="160" cy="2807" r="4"/><circle cx="226" cy="2815.7" r="4"/><circle cx="292" cy="2817.5" r="4"/><circle cx="358" cy="2817.5" r="4"/><circle cx="555" cy="2819.2" r="4"/><circle cx="621" cy="2843.6" r="4"/><circle cx="687" cy="2843.6" r="4"/></g>
<g fill="#0d2a7a"><circle cx="94" cy="2836.6" r="4"/><circle cx="160" cy="2843.6" r="4"/><circle cx="226" cy="2857.6" r="4"/><circle cx="292" cy="2857.6" r="4"/><circle cx="358" cy="2857.6" r="4"/><circle cx="555" cy="2854.1" r="4"/><circle cx="621" cy="2875" r="4"/><circle cx="687" cy="2875" r="4"/></g>
<line x1="273" y1="2751" x2="301" y2="2751" stroke="#c00000" stroke-width="3"/><circle cx="287" cy="2751" r="4" fill="#d01010"/><text class="lg" x="304" y="2756">螺矿比</text>
<line x1="361" y1="2751" x2="389" y2="2751" stroke="#2f5597" stroke-width="3"/><circle cx="375" cy="2751" r="4" fill="#0d2a7a"/><text class="lg" x="394" y="2756">坯矿比</text>
<line x1="450" y1="2751" x2="478" y2="2751" stroke="#808080" stroke-width="3"/><circle cx="464" cy="2751" r="4" fill="#999"/><text class="lg" x="482" y="2756">卷矿比</text>
<g class="g"><line x1="61" y1="2922" x2="721" y2="2922"/><line x1="16" y1="2944" x2="721" y2="2944"/><line x1="16" y1="2963" x2="721" y2="2963"/><line x1="16" y1="2983" x2="721" y2="2983"/><line x1="16" y1="3003" x2="721" y2="3003"/>
<line x1="16" y1="2944" x2="16" y2="3003"/><line x1="61" y1="2922" x2="61" y2="3003"/><line x1="144" y1="2922" x2="144" y2="3003"/><line x1="226" y1="2922" x2="226" y2="3003"/><line x1="309" y1="2922" x2="309" y2="3003"/><line x1="391" y1="2922" x2="391" y2="3003"/><line x1="474" y1="2922" x2="474" y2="3003"/><line x1="556" y1="2922" x2="556" y2="3003"/><line x1="639" y1="2922" x2="639" y2="3003"/><line x1="721" y1="2922" x2="721" y2="3003"/></g>
<g class="dt"><text x="102" y="2937">22/11/28</text><text x="185" y="2937">22/11/29</text><text x="267" y="2937">22/11/30</text><text x="350" y="2937">22/12/1</text><text x="432" y="2937">22/12/2</text><text x="515" y="2937">22/12/5</text><text x="597" y="2937">22/12/6</text><text x="680" y="2937">22/12/7</text>
<text x="102" y="2958">4.24</text><text x="185" y="2958">4.17</text><text x="267" y="2958">4.12</text><text x="350" y="2958">4.11</text><text x="432" y="2958">4.11</text><text x="515" y="2958">4.10</text><text x="597" y="2958">3.96</text><text x="680" y="2958">3.96</text>
<text x="102" y="2978">4.00</text><text x="185" y="2978">3.96</text><text x="267" y="2978">3.88</text><text x="350" y="2978">3.88</text><text x="432" y="2978">3.88</text><text x="515" y="2978">3.90</text><text x="597" y="2978">3.78</text><text x="680" y="2978">3.78</text>
<text x="102" y="2997">4.26</text><text x="185" y="2997">4.21</text><text x="267" y="2997">4.15</text><text x="350" y="2997">4.16</text><text x="432" y="2997">4.19</text><text x="515" y="2997">4.23</text><text x="597" y="2997">4.07</text><text x="680" y="2997">4.07</text></g>
<g class="dl"><text x="18" y="2959">螺矿比</text><text x="18" y="2978">坯矿比</text><text x="18" y="2998">卷矿比</text></g>
<text class="cap" x="366" y="3037">12月7日螺矿比3.96稳；坯矿比3.78稳；卷矿比 4.07稳</text>
<line class="bl" x1="0" y1="3045" x2="733" y2="3045"/>

<!-- Section 5 -->
<rect x="0" y="3066" width="21" height="31" fill="#2f5597"/>
<text class="hd" x="35" y="3085">唐山型材钢厂生产情况</text>
<text class="un" x="722" y="3081">(万吨)</text>
<line class="bl" x1="0" y1="3107" x2="733" y2="3107"/>

<!-- Bar chart -->
<ellipse cx="250" cy="3250" rx="75" ry="40" fill="#dfe9f5"/>
<text class="wl" x="250" y="3265" text-anchor="middle">LGMI</text>
<text class="wm" x="370" y="3265">www.lgmi.com</text>
<text x="361" y="3163" font-family="'Liberation Serif','Noto Serif CJK SC',serif" font-size="19" fill="#595959" text-anchor="middle">唐山样本轧钢厂成品材日出货量</text>
<text x="580" y="3163" font-size="14" fill="#111">吨</text>
<line x1="68" y1="3137" x2="68" y2="3376" stroke="#999"/>
<line x1="68" y1="3376" x2="687" y2="3376" stroke="#999"/>
<g class="axr" font-size="9.5"><text x="61" y="3147">120000</text><text x="61" y="3163">112000</text><text x="61" y="3178">104000</text><text x="61" y="3194">96000</text><text x="61" y="3209">88000</text><text x="61" y="3225">80000</text><text x="61" y="3240">72000</text><text x="61" y="3256">64000</text><text x="61" y="3271">56000</text><text x="61" y="3286">48000</text><text x="61" y="3302">40000</text><text x="61" y="3317">32000</text><text x="61" y="3333">24000</text><text x="61" y="3348">16000</text><text x="61" y="3364">8000</text><text x="61" y="3379">0</text></g>
<g fill="#2f5597">
<rect x="67.8" y="3300.6" width="11.7" height="75.4"/><rect x="79.5" y="3352.8" width="12.6" height="23.2"/><rect x="92.1" y="3231" width="13.1" height="145"/>
<rect x="130" y="3347" width="24.3" height="29"/><rect x="154.3" y="3269.7" width="12.6" height="106.3"/><rect x="166.9" y="3341.2" width="12.2" height="34.8"/><rect x="179.1" y="3368.3" width="12.1" height="7.7"/>
<rect x="216" y="3373.1" width="13.1" height="2.9"/><rect x="229.1" y="3200.1" width="12.1" height="175.9"/><rect x="241.2" y="3312.2" width="11.7" height="63.8"/><rect x="252.9" y="3273.5" width="12.6" height="102.5"/><rect x="265.5" y="3265.8" width="12.7" height="110.2"/>
<rect x="303" y="3370.2" width="12.6" height="5.8"/><rect x="315.6" y="3287.1" width="12.6" height="88.9"/><rect x="328.2" y="3302.5" width="12.1" height="73.5"/><rect x="340.3" y="3341.2" width="12.2" height="34.8"/><rect x="352.5" y="3188.5" width="12.6" height="187.5"/>
<rect x="389" y="3312.2" width="13" height="63.8"/><rect x="402" y="3296.7" width="12.2" height="79.3"/><rect x="414.2" y="3196.2" width="12.6" height="179.8"/><rect x="426.8" y="3366.3" width="11.7" height="9.7"/><rect x="438.5" y="3337.3" width="12.6" height="38.7"/>
<rect x="475.9" y="3335.4" width="12.6" height="40.6"/><rect x="488.5" y="3173" width="12.7" height="203"/><rect x="501.2" y="3350.9" width="12.1" height="25.1"/><rect x="513.3" y="3267.7" width="12.7" height="108.3"/><rect x="526" y="3318" width="12.1" height="58"/>
<rect x="562.9" y="3341.2" width="12.1" height="34.8"/><rect x="575" y="3329.6" width="12.2" height="46.4"/><rect x="587.2" y="3345.1" width="12.6" height="30.9"/><rect x="599.8" y="3319.9" width="12.6" height="56.1"/><rect x="612.4" y="3217.5" width="12.6" height="158.5"/>
<rect x="648.9" y="3329.6" width="12.6" height="46.4"/><rect x="661.5" y="3335.4" width="12.6" height="40.6"/><rect x="674.1" y="3294" width="12.2" height="82"/>
</g>
<g font-size="8" fill="#777" text-anchor="end">
<text transform="translate(77,3384) rotate(-90)">10月19日</text><text transform="translate(89,3384) rotate(-90)">10月20日</text><text transform="translate(102,3384) rotate(-90)">10月21日</text><text transform="translate(114,3384) rotate(-90)">10月22日</text><text transform="translate(127,3384) rotate(-90)">10月23日</text><text transform="translate(139,3384) rotate(-90)">10月24日</text><text transform="translate(152,3384) rotate(-90)">10月25日</text><text transform="translate(164,3384) rotate(-90)">10月26日</text><text transform="translate(176,3384) rotate(-90)">10月27日</text><text transform="translate(189,3384) rotate(-90)">10月28日</text><text transform="translate(201,3384) rotate(-90)">10月29日</text><text transform="translate(214,3384) rotate(-90)">10月30日</text><text transform="translate(226,3384) rotate(-90)">10月31日</text><text transform="translate(238,3384) rotate(-90)">11月1日</text><text transform="translate(251,3384) rotate(-90)">11月2日</text><text transform="translate(263,3384) rotate(-90)">11月3日</text><text transform="translate(276,3384) rotate(-90)">11月4日</text><text transform="translate(288,3384) rotate(-90)">11月5日</text><text transform="translate(300,3384) rotate(-90)">11月6日</text><text transform="translate(313,3384) rotate(-90)">11月7日</text><text transform="translate(325,3384) rotate(-90)">11月8日</text><text transform="translate(338,3384) rotate(-90)">11月9日</text><text transform="translate(350,3384) rotate(-90)">11月10日</text><text transform="translate(362,3384) rotate(-90)">11月11日</text><text transform="translate(375,3384) rotate(-90)">11月12日</text><text transform="translate(387,3384) rotate(-90)">11月13日</text><text transform="translate(400,3384) rotate(-90)">11月14日</text><text transform="translate(412,3384) rotate(-90)">11月15日</text><text transform="translate(424,3384) rotate(-90)">11月16日</text><text transform="translate(437,3384) rotate(-90)">11月17日</text><text transform="translate(449,3384) rotate(-90)">11月18日</text><text transform="translate(462,3384) rotate(-90)">11月19日</text><text transform="translate(474,3384) rotate(-90)">11月20日</text><text transform="translate(486,3384) rotate(-90)">11月21日</text><text transform="translate(499,3384) rotate(-90)">11月22日</text><text transform="translate(511,3384) rotate(-90)">11月23日</text><text transform="translate(524,3384) rotate(-90)">11月24日</text><text transform="translate(536,3384) rotate(-90)">11月25日</text><text transform="translate(548,3384) rotate(-90)">11月26日</text><text transform="translate(561,3384) rotate(-90)">11月27日</text><text transform="translate(573,3384) rotate(-90)">11月28日</text><text transform="translate(586,3384) rotate(-90)">11月29日</text><text transform="translate(598,3384) rotate(-90)">11月30日</text><text transform="translate(610,3384) rotate(-90)">12月1日</text><text transform="translate(623,3384) rotate(-90)">12月2日</text><text transform="translate(635,3384) rotate(-90)">12月3日</text><text transform="translate(648,3384) rotate(-90)">12月4日</text><text transform="translate(660,3384) rotate(-90)">12月5日</text><text transform="translate(672,3384) rotate(-90)">12月6日</text><text transform="translate(685,3384) rotate(-90)">12月7日</text>
</g>
<line x1="77" y1="3450" x2="77" y2="3485" stroke="#ccc"/>
<text class="p" x="4" y="3473" textLength="57" lengthAdjust="spacingAndGlyphs">12月7日</text>
<text class="p" x="80" y="3473" textLength="504" lengthAdjust="spacingAndGlyphs">唐山24家型材钢厂出货总量约4.24万吨，较上个交易日增加约2.17万吨。</text>
<line x1="0" y1="3486" x2="733" y2="3486" stroke="#b8c4d6" stroke-width="1.5"/>
<text class="p" x="3" y="3503" textLength="712" lengthAdjust="spacingAndGlyphs">7日唐山型材价格稳中趋强盘整，据悉今日成交集中于午前期螺拉涨阶段，伴随午后盘面迅速下跌，市</text>
<text class="p" x="3" y="3526" textLength="726" lengthAdjust="spacingAndGlyphs">场采购计划延后推迟，谨慎观望后市，据统计截止16:00唐山24家型材钢厂出货总量约42400吨，较上一</text>
<text class="p" x="3" y="3549" textLength="532" lengthAdjust="spacingAndGlyphs">个工作日涨104.34%，其中，工字钢3800吨；槽钢14400吨；角钢24200吨。</text>
<line class="bl" x1="0" y1="3562" x2="733" y2="3562"/>
<text class="p" x="3" y="3579" textLength="715" lengthAdjust="spacingAndGlyphs">兰格钢铁网统计唐山24家样本轧钢企业共37条轧线，在产16条，停产21条，较上周增加10条，开工率</text>
<text class="p" x="3" y="3602" textLength="717" lengthAdjust="spacingAndGlyphs">为43.24%，周环比下降27.03个百分点，下游需求有限叠加运输不畅等因素影响，部分厂家库存水位升</text>
<text class="p" x="3" y="3625" textLength="200" lengthAdjust="spacingAndGlyphs">高，已有部分轧线自主停产。</text>
<line class="bl" x1="0" y1="3631" x2="733" y2="3631"/>

<!-- Section 6 -->
<rect x="0" y="3653" width="21" height="32" fill="#2f5597"/>
<text class="hd" x="35" y="3672">全国主要钢企高炉开工情况</text>
<line class="bl" x1="0" y1="3694" x2="733" y2="3694"/>
<ellipse cx="245" cy="3835" rx="75" ry="40" fill="#dfe9f5"/>
<text class="wl" x="245" y="3850" text-anchor="middle">LGMI</text>
<text class="wm" x="370" y="3850">www.lgmi.com</text>
<text x="366" y="3724" font-family="'Liberation Serif','Noto Serif CJK SC',serif" font-size="19" fill="#595959" text-anchor="middle">全国主要钢企高炉开工率</text>
<line x1="56" y1="3720" x2="56" y2="3955" stroke="#aaa"/>
<line x1="56" y1="3955" x2="697" y2="3955" stroke="#aaa"/>
<g class="axr"><text x="49" y="3727">85.00</text><text x="49" y="3774">80.00</text><text x="49" y="3820">75.00</text><text x="49" y="3866">70.00</text><text x="49" y="3913">65.00</text><text x="49" y="3959">60.00</text></g>
<g class="axm" font-size="10"><text x="56" y="3974">2022/02/01</text><text x="115" y="3974">2022/03/01</text><text x="180" y="3974">2022/04/01</text><text x="243" y="3974">2022/05/01</text><text x="309" y="3974">2022/06/01</text><text x="373" y="3974">2022/07/01</text><text x="438" y="3974">2022/08/01</text><text x="503" y="3974">2022/09/01</text><text x="567" y="3974">2022/10/01</text><text x="633" y="3974">2022/11/01</text><text x="697" y="3974">2022/12/01</text></g>
<polyline fill="none" stroke="#2f5597" stroke-width="3" stroke-linejoin="round" points="69.2,3862.2 77.1,3850.1 92.6,3829.7 107.5,3838.1 122.5,3836.2 135.6,3783.3 149.6,3787 166,3758.3 180,3765.7 196.4,3760.1 210.4,3759.2 224.4,3769.4 240.8,3746.2 266.5,3747.1 294.5,3752.7 313.2,3745.3 329.6,3746.2 343.6,3766.6 357.6,3771.3 374,3781.5 388,3781.5 399.7,3806.5 416.1,3812.1 434.8,3807.4 444.1,3802.8 455.8,3800 472.2,3778.7 490.9,3771.3 514.3,3766.6 533,3766.6 547,3762.9 561,3764.8 579.7,3776.8 591.4,3780.5 605.4,3781.5 621.8,3795.4 635.8,3802.8 649.8,3808.4 663.9,3798.2 680.2,3798.2"/>
<text class="p" x="3" y="4002" textLength="718" lengthAdjust="spacingAndGlyphs">全国201家生产企业中有81家钢厂共计117座高炉停产，其中在检修有76家109座(74家106座)，有6家8</text>
<text class="p" x="3" y="4026" textLength="718" lengthAdjust="spacingAndGlyphs">座高炉不再开启，117座停产高炉总容积为110460立方米，较上周减少450立方米，按容积计算主要钢</text>
<text class="p" x="3" y="4049" textLength="332" lengthAdjust="spacingAndGlyphs">铁企业高炉开工率为76.92%，较上周涨0.03%。</text>
<text class="p" x="3" y="4072" textLength="352" lengthAdjust="spacingAndGlyphs">影响日铁水量为32.22万吨，较上周减少3.53万吨。</text>
<text x="3" y="4094" font-size="13" font-weight="bold" fill="#111" textLength="570" lengthAdjust="spacingAndGlyphs">注：自7月21日开始，兰格钢铁网对原样本160家571座高炉样本进行更换，新样本为201家650座。</text>
<line class="bl" x1="0" y1="4099" x2="733" y2="4099"/>

<!-- Section 7 -->
<text class="hd" x="35" y="4121">唐山钢坯成本</text>
<text class="un" x="722" y="4117">(元/吨)</text>
<line class="bl" x1="0" y1="4131" x2="733" y2="4131"/>
<ellipse cx="250" cy="4278" rx="72" ry="58" fill="#dfe9f5"/>
<text class="wl" x="250" y="4292" text-anchor="middle">LGMI</text>
<text class="wm" x="370" y="4295" font-size="36">www.lgmi.com</text>
<text x="365" y="4159" font-family="'Liberation Serif','Noto Serif CJK SC',serif" font-size="19" font-weight="bold" fill="#7f7f7f" text-anchor="middle">钢坯出厂价与钢坯生产成本均价走势对比图</text>
<line x1="255" y1="4178" x2="283" y2="4178" stroke="#c00000" stroke-width="3"/><text class="lg" x="286" y="4183" font-weight="bold" fill="#404040">迁安方坯</text>
<line x1="382" y1="4178" x2="411" y2="4178" stroke="#2f5597" stroke-width="3"/><text class="lg" x="414" y="4183" font-weight="bold" fill="#404040">钢坯成本均价</text>
<line x1="62" y1="4147" x2="62" y2="4387" stroke="#aaa"/>
<line x1="62" y1="4387" x2="687" y2="4387" stroke="#aaa"/>
<g class="axr"><text x="55" y="4153">5100</text><text x="55" y="4173">4950</text><text x="55" y="4193">4800</text><text x="55" y="4212">4650</text><text x="55" y="4232">4500</text><text x="55" y="4252">4350</text><text x="55" y="4272">4200</text><text x="55" y="4292">4050</text><text x="55" y="4312">3900</text><text x="55" y="4332">3750</text><text x="55" y="4351">3600</text><text x="55" y="4371">3450</text><text x="55" y="4391">3300</text></g>
<g font-size="9" fill="#595959" text-anchor="end">
<text transform="translate(68,4392) rotate(-90)">5月11日</text><text transform="translate(89,4392) rotate(-90)">5月18日</text><text transform="translate(110,4392) rotate(-90)">5月25日</text><text transform="translate(131,4392) rotate(-90)">6月1日</text><text transform="translate(151,4392) rotate(-90)">6月8日</text><text transform="translate(172,4392) rotate(-90)">6月15日</text><text transform="translate(193,4392) rotate(-90)">6月22日</text><text transform="translate(214,4392) rotate(-90)">6月29日</text><text transform="translate(234,4392) rotate(-90)">7月6日</text><text transform="translate(255,4392) rotate(-90)">7月13日</text><text transform="translate(276,4392) rotate(-90)">7月20日</text><text transform="translate(297,4392) rotate(-90)">7月27日</text><text transform="translate(317,4392) rotate(-90)">8月3日</text><text transform="translate(338,4392) rotate(-90)">8月10日</text><text transform="translate(359,4392) rotate(-90)">8月17日</text><text transform="translate(380,4392) rotate(-90)">8月24日</text><text transform="translate(400,4392) rotate(-90)">8月31日</text><text transform="translate(421,4392) rotate(-90)">9月7日</text><text transform="translate(442,4392) rotate(-90)">9月14日</text><text transform="translate(463,4392) rotate(-90)">9月21日</text><text transform="translate(483,4392) rotate(-90)">9月28日</text><text transform="translate(504,4392) rotate(-90)">10月5日</text><text transform="translate(525,4392) rotate(-90)">10月12日</text><text transform="translate(546,4392) rotate(-90)">10月19日</text><text transform="translate(566,4392) rotate(-90)">10月26日</text><text transform="translate(587,4392) rotate(-90)">11月2日</text><text transform="translate(608,4392) rotate(-90)">11月9日</text><text transform="translate(629,4392) rotate(-90)">11月16日</text><text transform="translate(649,4392) rotate(-90)">11月23日</text><text transform="translate(670,4392) rotate(-90)">11月30日</text><text transform="translate(691,4392) rotate(-90)">12月7日</text>
</g>
<polyline fill="none" stroke="#2f5597" stroke-width="2.5" points="63,4187 78.5,4187 81.8,4206 99.1,4206 101.9,4216 121.6,4216 123.9,4220 142.6,4220 144.9,4230 162.7,4230 164.6,4236 183.3,4236 185.6,4227 204.3,4227 206.6,4244 225.8,4244 228.1,4250 244.5,4250 246.8,4280 266.5,4280 268.8,4312 287.5,4312 289.9,4318 308.6,4318 310.9,4321 329.6,4321 331.9,4351 350.6,4351 353,4353 370.3,4353 372.6,4334 391.8,4334 394.1,4339 411.4,4339 413.7,4343 432.4,4343 434.8,4339 453.5,4339 455.8,4337 472.2,4337 475.4,4343 515.2,4343 518,4324 535.3,4324 537.6,4325 556.3,4325 558.7,4324 577.4,4324 579.7,4329 598.4,4329 600.7,4345 619.4,4345 621.8,4343 639.5,4343 641.9,4339 660.1,4339 662.4,4335 681.6,4335"/>
<polyline fill="none" stroke="#c00000" stroke-width="2.5" stroke-linejoin="round" points="63.1,4212.5 70.1,4207.2 84.2,4219.1 88.8,4229.6 98.2,4224.4 101.9,4232.3 107.5,4233.6 123.9,4233.6 128.6,4228.3 142.6,4228.3 147.3,4225.7 159,4228.3 164.6,4244.2 170.6,4244.2 173.9,4270.6 182.3,4283.8 186.1,4316.9 189.3,4303.7 194,4305 205.7,4289.1 211.3,4287.8 219.7,4303.7 224.4,4305 236.1,4305 247.8,4331.4 254.8,4344.7 256.2,4373.7 268.8,4353.9 292.2,4353.9 296.9,4344.7 308.6,4324.8 315.6,4324.8 317.9,4331.4 329.6,4322.2 334.3,4331.4 338.9,4323.5 350.6,4324.8 353,4320.9 360,4338 374,4323.5 381,4326.1 392.7,4332.7 399.7,4331.4 411.4,4336.7 418.4,4334.1 423.1,4331.4 437.1,4331.4 441.8,4334.1 451.1,4342 455.8,4349.9 462.8,4340.7 474.5,4340.7 479.2,4334.1 486.2,4334.1 504.9,4331.4 514.3,4331.4 518.9,4342 537.6,4340.7 544.6,4348.6 556.3,4343.3 561,4349.9 577.4,4373.7 584.4,4368.5 591.4,4365.8 598.4,4365.8 603.1,4364.5 607.8,4361.8 621.8,4359.2 628.8,4355.2 638.1,4360.5 647.5,4357.9 659.2,4353.9 663.9,4351.3 668.5,4355.2 675.5,4349.9 682.6,4343.3"/>
<text class="p" x="3" y="4474" textLength="718" lengthAdjust="spacingAndGlyphs">本周（12月7日）唐山地区样本长流程钢厂，钢坯含税累计成本（调研值，不含三费）均值为3738元，</text>
<text class="p" x="3" y="4496" textLength="122" lengthAdjust="spacingAndGlyphs">较上期增加55元。</text>
</svg>
</body></html>
